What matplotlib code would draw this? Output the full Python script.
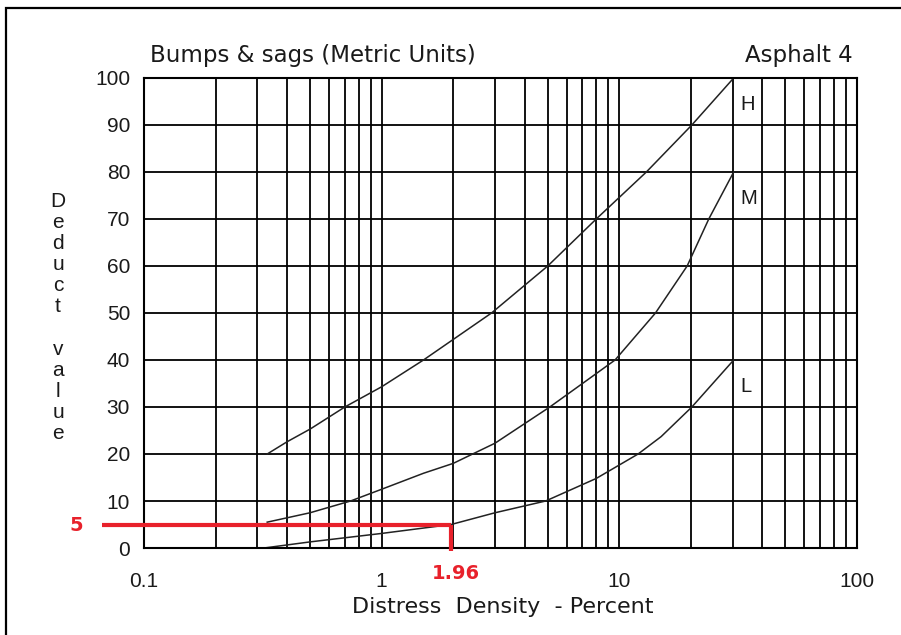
import matplotlib.pyplot as plt
import matplotlib.patches as patches
import numpy as np

# deduct curves, read as (density %, deduct value)
high_x = [0.33, 0.4, 0.5, 0.7, 1.0, 1.5, 2.9, 5.0, 8.0, 13.0, 20.2, 30.3]
high_y = [20, 22.6, 25.3, 30, 34.3, 40, 50, 60, 70, 80, 90, 100]

med_x = [0.33, 0.5, 0.74, 1.0, 1.5, 2.0, 3.0, 5.1, 7.0, 9.6, 12.0, 14.2, 19.3, 23.8, 30.3]
med_y = [5.5, 7.5, 10, 12.5, 15.9, 18, 22.3, 30, 35, 40, 45.7, 50, 60, 70, 80]

low_x = [0.32, 0.5, 1.0, 1.96, 3.0, 4.9, 8.0, 12.0, 15.0, 20.2, 30.3]
low_y = [0, 1.3, 3.1, 5, 7.5, 10, 14.8, 20, 23.7, 30, 40]

curve_labels = ['H', 'M', 'L']

# worked example: density 1.96 % on the L curve gives deduct 5
ref_x = 1.96
ref_y = 5

x_ticks = [0.1, 1, 10, 100]
x_tick_labels = ['0.1', '1', '10', '100']
y_ticks = list(range(0, 101, 10))

RED = '#e8212b'
TXT = '#1a1a1a'

fig = plt.figure(figsize=(9.01, 6.35), dpi=100)
ax = fig.add_axes([0.1598, 0.137, 0.7913, 0.7402])

ax.set_xscale('log')
ax.set_xlim(0.1, 100)
ax.set_ylim(0, 100)

# grid at every 1..9 step of each decade
minor = [m * d for d in (0.1, 1, 10) for m in range(2, 10)]
ax.set_xticks(x_ticks)
ax.set_xticks(minor, minor=True)
ax.set_xticklabels(x_tick_labels)
ax.set_yticks(y_ticks)
ax.grid(True, which='both', color='black', linewidth=1.3)
ax.tick_params(which='both', length=0, labelfontfamily='Liberation Sans',
               labelsize=15, labelcolor=TXT)
ax.tick_params(axis='y', pad=10)
ax.tick_params(axis='x', pad=17)
for s in ax.spines.values():
    s.set_color('black')
    s.set_linewidth(1.5)

for xs, ys in [(high_x, high_y), (med_x, med_y), (low_x, low_y)]:
    ax.plot(xs, ys, color='#222222', linewidth=1.1)

for name, xs, ys in zip(curve_labels, [high_x, med_x, low_x], [high_y, med_y, low_y]):
    ax.annotate(name, (xs[-1], ys[-1]), xytext=(5, -12), textcoords='offset points',
                ha='left', va='top', fontsize=14.5, color=TXT, family='Liberation Sans')

# red reading lines, running past the axes on both ends
ax.plot([0.0666, ref_x], [ref_y, ref_y], color=RED, linewidth=3, clip_on=False,
        solid_capstyle='butt', zorder=5)
ax.plot([ref_x, ref_x], [ref_y, -0.7], color=RED, linewidth=3, clip_on=False,
        solid_capstyle='butt', zorder=5)
fig.text(0.0843, 0.173, str(ref_y), color=RED, fontsize=14, fontweight='bold',
         ha='center', va='center')
fig.text(0.506, 0.097, str(ref_x), color=RED, fontsize=14, fontweight='bold',
         ha='center', va='center')

fig.text(0.1665, 0.9024, 'Bumps & sags (Metric Units)', fontsize=16.5, color=TXT,
         ha='left', va='baseline')
fig.text(0.9467, 0.9024, 'Asphalt 4', fontsize=16.5, color=TXT,
         ha='right', va='baseline')
fig.text(0.558, 0.0346, 'Distress  Density  - Percent', fontsize=16, color=TXT,
         ha='center', va='baseline')
fig.text(0.0644, 0.5, '\n'.join('Deduct value'), fontsize=15, color=TXT,
         ha='center', va='center', linespacing=1.14, family='Liberation Sans')

# outer frame, open at right and bottom
fig.patches.append(patches.Rectangle((0.0067, -0.2), 1.2, 1.1874,
                                     transform=fig.transFigure, fill=False,
                                     edgecolor='black', linewidth=1.6))

fig.savefig('out.png', dpi=100)
